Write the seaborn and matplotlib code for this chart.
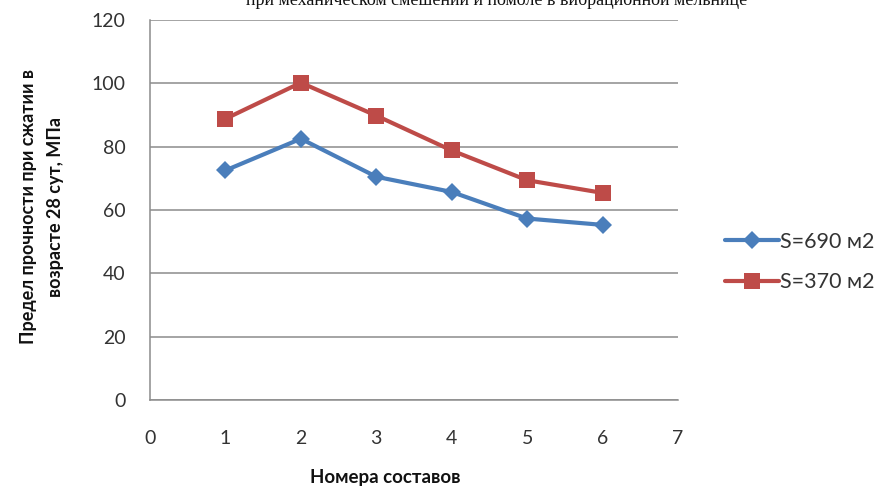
import matplotlib
matplotlib.use("Agg")
import matplotlib.pyplot as plt
import seaborn as sns
import pandas as pd

# Compositions and compressive strength at 28 days, MPa
compositions = [1, 2, 3, 4, 5, 6]
strength_690 = [72.5, 82.5, 70.5, 65.7, 57.3, 55.3]
strength_370 = [88.8, 100.2, 89.8, 78.8, 69.4, 65.4]
series_names = ["S=690 м2", "S=370 м2"]
x_ticks = [0, 1, 2, 3, 4, 5, 6, 7]
y_ticks = [0, 20, 40, 60, 80, 100, 120]

df = pd.DataFrame({
    "x": compositions * 2,
    "y": strength_690 + strength_370,
    "series": [series_names[0]] * len(compositions) + [series_names[1]] * len(compositions),
})

sns.set_style("white")
plt.rcParams["font.family"] = ["Lato", "DejaVu Sans"]

fig = plt.figure(figsize=(8.85, 4.97), dpi=100)
ax = fig.add_axes([150 / 885, 97 / 497, 528 / 885, 380 / 497])

palette = {series_names[0]: "#4a7ebb", series_names[1]: "#be4b48"}
markers = {series_names[0]: "D", series_names[1]: "s"}
marker_sizes = [9, 11.5]
line_w = 3.0
sns.lineplot(data=df, x="x", y="y", hue="series", style="series",
             palette=palette, markers=markers, dashes=False,
             linewidth=line_w, markersize=10, markeredgewidth=0,
             ax=ax, legend=False)
for line, ms in zip(ax.lines, marker_sizes):
    line.set_markersize(ms)

ax.set_xlim(0, 7)
ax.set_ylim(0, 120)
ax.set_xticks(x_ticks)
ax.set_yticks(y_ticks)
ax.yaxis.grid(True, color="#8c8c8c", linewidth=1.1)
ax.xaxis.grid(False)
for side in ["top", "right"]:
    ax.spines[side].set_visible(False)
for side in ["left", "bottom"]:
    ax.spines[side].set_color("#8c8c8c")
    ax.spines[side].set_linewidth(1.1)
ax.tick_params(axis="both", which="major", direction="out", length=6.5,
               width=1.1, color="#8c8c8c", labelsize=14, labelcolor="#333333")
ax.tick_params(axis="y", pad=11)
ax.tick_params(axis="x", pad=15)
ax.set_xlabel("")
ax.set_ylabel("")

fig.text(385 / 885, 1 - 478 / 497, "Номера составов", ha="center", va="center",
         fontsize=13.5, fontweight="bold", color="#111111")
fig.text(42 / 885, 1 - 207 / 497, "Предел прочности при сжатии в\nвозрасте 28 сут, МПа",
         ha="center", va="center", rotation=90, fontsize=13,
         fontweight="bold", color="#111111", linespacing=1.75)

# caption line above the chart, running off the top edge
fig.text(497 / 885, 1 - 5 / 497,
         "при механическом смешении и помоле в вибрационной мельнице",
         ha="center", va="baseline", fontsize=13, color="#111111",
         family=["Liberation Serif", "DejaVu Serif"])

handles = [plt.Line2D([], [], color=palette[n], marker=markers[n], linewidth=line_w,
                      markersize=ms, markeredgewidth=0)
           for n, ms in zip(series_names, marker_sizes)]
fig.legend(handles, series_names, loc="center left",
           bbox_to_anchor=(706 / 885, 1 - 262 / 497), frameon=False,
           fontsize=15.5, handlelength=2.5, handletextpad=0.05,
           labelspacing=0.95, labelcolor="#333333")

fig.savefig("out.png", dpi=100)
